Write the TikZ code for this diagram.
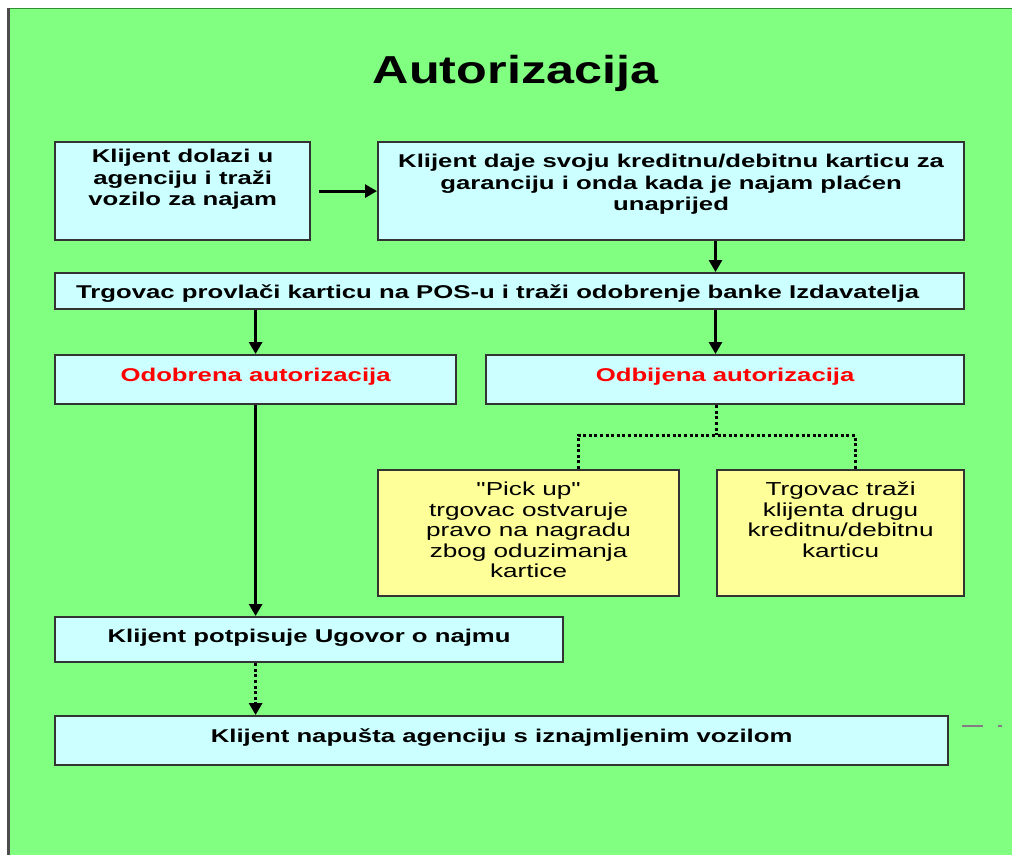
\documentclass[tikz,border=0pt]{standalone}
\usepackage{fontspec}
\setmainfont{Liberation Sans}[FakeStretch=1.39]
\newfontfamily\titlefont{Liberation Sans}[FakeStretch=1.29]
\newfontfamily\notefont{Liberation Sans}[FakeStretch=1.39]
\usetikzlibrary{arrows.meta}
\definecolor{bggreen}{HTML}{80FF80}
\definecolor{boxcyan}{HTML}{CCFFFF}
\definecolor{boxyellow}{HTML}{FFFF99}
\definecolor{edgegray}{HTML}{333333}
\definecolor{markgray}{HTML}{857A85}
\newcommand{\boxtext}[4]{\parbox[c][#2][t]{#1}{\vspace*{#3}\centering #4}}

\begin{document}
\begin{tikzpicture}[x=1pt,y=-1pt,
box/.style={draw=edgegray, line width=2.2pt, inner sep=0pt, anchor=north west,
	font=\bfseries\fontsize{18.5}{21.5}\selectfont},
cyanbox/.style={box, fill=boxcyan},
yellowbox/.style={box, fill=boxyellow, font=\notefont\fontsize{18.8}{20.5}\selectfont},
arr/.style={line width=2.8pt, -{Triangle[length=12pt,width=13pt]}},
dots/.style={line width=3pt, dash pattern=on 3pt off 2.6pt}]
\useasboundingbox (0,0) rectangle (1012,855);
% background
\fill[white] (0,0) rectangle (1012,855);
\fill[bggreen] (8,8) rectangle (1012,855);
\draw[green!45!black!80, line width=1.5pt] (8,8.5) -- (1012,8.5);
\draw[gray!60!black, line width=3pt] (8.5,8) -- (8.5,855);
\node[font=\titlefont\bfseries\fontsize{39}{40}\selectfont, anchor=base] (title) at (515.5,83) {Autorizacija};
% boxes
\node[cyanbox] (A) at (54,141) {\boxtext{255pt}{98pt}{7pt}{Klijent dolazi u\\ agenciju i traži\\ vozilo za najam}};
\node[cyanbox] (B) at (377,141) {\boxtext{586pt}{98pt}{12pt}{Klijent daje svoju kreditnu/debitnu karticu za\\ garanciju i onda kada je najam plaćen\\ unaprijed}};
\node[cyanbox] (C) at (54,272) {\parbox[c][36pt][t]{909pt}{\vspace*{12pt}\hspace*{21pt}Trgovac provlači karticu na POS-u i traži odobrenje banke Izdavatelja}};
\node[cyanbox] (D) at (54,354) {\boxtext{401pt}{49pt}{13pt}{\color{red}Odobrena autorizacija}};
\node[cyanbox] (E) at (485,354) {\boxtext{478pt}{49pt}{13pt}{\color{red}Odbijena autorizacija}};
\node[yellowbox] (F) at (377,469) {\boxtext{301pt}{126pt}{12pt}{"Pick up"\\ trgovac ostvaruje\\ pravo na nagradu\\ zbog oduzimanja\\ kartice}};
\node[yellowbox] (G) at (716,469) {\boxtext{247pt}{126pt}{12pt}{Trgovac traži\\ klijenta drugu\\ kreditnu/debitnu\\ karticu}};
\node[cyanbox] (H) at (54,616) {\boxtext{508pt}{45pt}{12pt}{Klijent potpisuje Ugovor o najmu}};
\node[cyanbox] (I) at (54,715) {\boxtext{893pt}{49pt}{13pt}{Klijent napušta agenciju s iznajmljenim vozilom}};
% connectors
\coordinate (rx) at (715.5,0);
\coordinate (fork) at (716,435);
\coordinate (forkl) at (578,435);
\coordinate (forkr) at (855,435);
\draw[arr, shorten <=8pt] (A.east) -- (B.west);
\draw[arr] (B.south -| rx) -- (C.north -| rx);
\draw[arr] (C.south -| D.north) -- (D.north);
\draw[arr] (C.south -| rx) -- (E.north -| rx);
\draw[dots] (E.south -| fork) -- (fork);
\draw[dots] (F.north -| forkl) |- (fork) -| (G.north -| forkr);
\draw[arr] (D.south) -- (H.north -| D.south);
\draw[arr, dots] (H.south -| D.south) -- (I.north -| D.south);
% stray mark
\draw[markgray, line width=2.5pt] (962,726) -- (983,726) (998,726) -- (1002,726);
\end{tikzpicture}
\end{document}
